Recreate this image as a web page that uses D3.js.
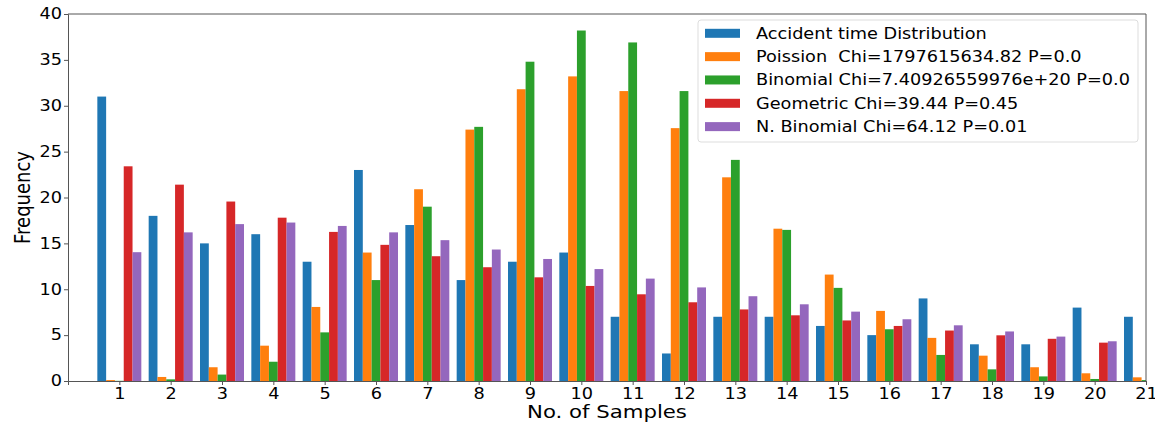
<!DOCTYPE html>
<html>
<head>
  <meta charset="utf-8">
  <title>Accident time distribution fits</title>
  <script src="https://d3js.org/d3.v7.min.js"></script>
  <style>
    body { margin: 0; background: #fff; }
    text { font-family: "DejaVu Sans", sans-serif; fill: #000; white-space: pre; }
    .domain { stroke: #555; }
    .tick line { stroke: #555; }
  </style>
</head>
<body>
<div id="chart"></div>
<script>
  // x categories (no. of samples)
  const categories = [1, 2, 3, 4, 5, 6, 7, 8, 9, 10, 11, 12, 13, 14, 15, 16, 17, 18, 19, 20, 21];
  const yTicks = [0, 5, 10, 15, 20, 25, 30, 35, 40];

  // values
  const observed  = [31, 18, 15, 16, 13, 23, 17, 11, 13, 14, 7, 3, 7, 7, 6, 5, 9, 4, 4, 8, 7];
  const poisson   = [0.1, 0.44, 1.5, 3.85, 8.07, 14.0, 20.9, 27.4, 31.8, 33.2, 31.6, 27.56, 22.2, 16.6, 11.6, 7.64, 4.7, 2.76, 1.5, 0.84, 0.4];
  const binomial  = [0.02, 0.18, 0.7, 2.1, 5.3, 11.0, 19.0, 27.7, 34.8, 38.2, 36.9, 31.6, 24.1, 16.47, 10.15, 5.64, 2.84, 1.27, 0.5, 0.22, 0.1];
  const geometric = [23.4, 21.4, 19.56, 17.8, 16.25, 14.84, 13.6, 12.4, 11.3, 10.36, 9.45, 8.58, 7.8, 7.16, 6.6, 6.0, 5.5, 4.98, 4.6, 4.18, 3.8];
  const nbinomial = [14.04, 16.2, 17.1, 17.27, 16.9, 16.2, 15.35, 14.33, 13.3, 12.2, 11.16, 10.2, 9.24, 8.36, 7.56, 6.73, 6.07, 5.4, 4.84, 4.33, 3.9];

  const seriesNames = [
    "Accident time Distribution",
    "Poission  Chi=1797615634.82 P=0.0",
    "Binomial Chi=7.40926559976e+20 P=0.0",
    "Geometric Chi=39.44 P=0.45",
    "N. Binomial Chi=64.12 P=0.01"
  ];
  const seriesValues = [observed, poisson, binomial, geometric, nbinomial];
  const colors = ["#1f77b4", "#ff7f0e", "#2ca02c", "#d62728", "#9467bd"];

  // the source picture is stretched sideways, so text gets the same stretch
  const SX = 1.18;

  const W = 1155, H = 424;
  const margin = {top: 14, right: 9, bottom: 43, left: 68};
  const width = W - margin.left - margin.right;
  const height = H - margin.top - margin.bottom;

  const svg = d3.select("#chart").append("svg")
    .attr("width", W)
    .attr("height", H);

  const g = svg.append("g")
    .attr("transform", "translate(" + margin.left + "," + margin.top + ")");

  const x = d3.scaleLinear().domain([0, 21]).range([0, width]);
  const y = d3.scaleLinear().domain([0, 40]).range([height, 0]);

  const groupW = 0.857;
  const barW = groupW / seriesValues.length;

  g.append("clipPath").attr("id", "plot-clip")
    .append("rect").attr("width", width).attr("height", height);

  const bars = g.append("g").attr("clip-path", "url(#plot-clip)");

  seriesValues.forEach((vals, si) => {
    bars.selectAll(".bar-" + si)
      .data(vals)
      .enter().append("rect")
      .attr("class", "bar-" + si)
      .attr("x", (d, i) => x(categories[i] - groupW / 2 + si * barW))
      .attr("width", x(barW) - x(0))
      .attr("y", d => y(d))
      .attr("height", d => y(0) - y(d))
      .attr("fill", colors[si]);
  });

  // axes
  const xAxis = g.append("g")
    .attr("transform", "translate(0," + height + ")")
    .call(d3.axisBottom(x).tickValues(categories).tickFormat(d3.format("d")).tickSizeOuter(0).tickSize(4));
  xAxis.selectAll("text")
    .attr("y", 7)
    .attr("transform", "scale(" + SX + ",1)")
    .style("font-size", "15px")
    .style("font-family", "DejaVu Sans");

  const yAxis = g.append("g")
    .call(d3.axisLeft(y).tickValues(yTicks).tickSizeOuter(0).tickSize(4));
  yAxis.selectAll("text")
    .attr("x", -6 / SX)
    .attr("transform", "scale(" + SX + ",1)")
    .style("font-size", "15px")
    .style("font-family", "DejaVu Sans");

  // top and right spines
  g.append("line").attr("x1", 0).attr("x2", width).attr("y1", 0).attr("y2", 0)
    .attr("stroke", "#555");
  g.append("line").attr("x1", width).attr("x2", width).attr("y1", 0).attr("y2", height)
    .attr("stroke", "#555");

  // axis labels
  svg.append("g")
    .attr("transform", "translate(" + (margin.left + width / 2) + ",418) scale(" + SX + ",1)")
    .append("text")
    .attr("text-anchor", "middle")
    .style("font-size", "18px")
    .text("No. of Samples");

  svg.append("g")
    .attr("transform", "translate(30," + (margin.top + height / 2) + ") scale(" + SX + ",1) rotate(-90)")
    .append("text")
    .attr("text-anchor", "middle")
    .style("font-size", "18px")
    .text("Frequency");

  // legend
  const legend = svg.append("g").attr("transform", "translate(698,20)");
  legend.append("rect")
    .attr("width", 440).attr("height", 122)
    .attr("rx", 3)
    .attr("fill", "#fff").attr("fill-opacity", 0.8)
    .attr("stroke", "#ddd");

  const rowStep = 23.33;
  const rows = legend.selectAll(".row")
    .data(seriesNames)
    .enter().append("g")
    .attr("transform", (d, i) => "translate(0," + (13.3 + i * rowStep) + ")");
  rows.append("rect")
    .attr("x", 7).attr("y", -4.5)
    .attr("width", 35).attr("height", 9)
    .attr("fill", (d, i) => colors[i]);
  rows.append("g")
    .attr("transform", "translate(58,5.5) scale(" + SX + ",1)")
    .append("text")
    .attr("xml:space", "preserve")
    .style("font-size", "15px")
    .text(d => d);
</script>
</body>
</html>
